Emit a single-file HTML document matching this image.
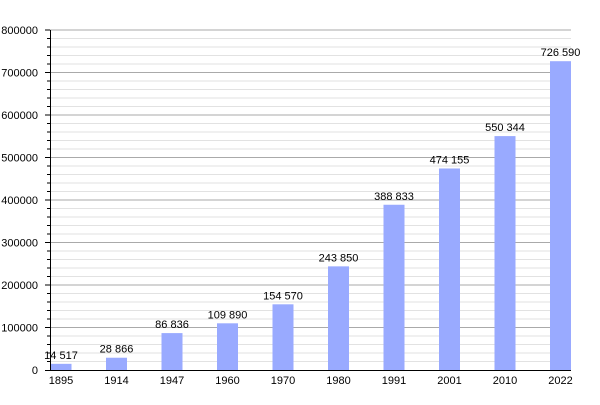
<!DOCTYPE html>
<html><head><meta charset="utf-8"><style>body{margin:0;background:#fff}</style></head><body>
<svg width="600" height="400" xmlns="http://www.w3.org/2000/svg" font-family="Liberation Sans, sans-serif" font-size="11" fill="#000">
<path stroke="#e2e2e2" fill="none" d="M50 361.5H571M50 353H571M50 344.5H571M50 336H571M50 319H571M50 310.5H571M50 302H571M50 293.5H571M50 276.5H571M50 268H571M50 259.5H571M50 251H571M50 234H571M50 225.5H571M50 217H571M50 208.5H571M50 191.5H571M50 183H571M50 174.5H571M50 166H571M50 149H571M50 140.5H571M50 132H571M50 123.5H571M50 106.5H571M50 98H571M50 89.5H571M50 81H571M50 64H571M50 55.5H571M50 47H571M50 38.5H571"/>
<path stroke="#aaa" fill="none" d="M50 327.5H571M50 285H571M50 242.5H571M50 200H571M50 157.5H571M50 115H571M50 72.5H571M50 30H571"/>
<path stroke="#000" fill="none" d="M47 361.5H50M47 353H50M47 344.5H50M47 336H50M47 319H50M47 310.5H50M47 302H50M47 293.5H50M47 276.5H50M47 268H50M47 259.5H50M47 251H50M47 234H50M47 225.5H50M47 217H50M47 208.5H50M47 191.5H50M47 183H50M47 174.5H50M47 166H50M47 149H50M47 140.5H50M47 132H50M47 123.5H50M47 106.5H50M47 98H50M47 89.5H50M47 81H50M47 64H50M47 55.5H50M47 47H50M47 38.5H50M45 327.5H50M45 285H50M45 242.5H50M45 200H50M45 157.5H50M45 115H50M45 72.5H50M45 30H50"/>
<g text-anchor="end">
<text x="38" y="374">0</text>
<text x="38" y="331.5">100000</text>
<text x="38" y="289">200000</text>
<text x="38" y="246.5">300000</text>
<text x="38" y="204">400000</text>
<text x="38" y="161.5">500000</text>
<text x="38" y="119">600000</text>
<text x="38" y="76.5">700000</text>
<text x="38" y="34">800000</text>
</g>
<g fill="#99aaff">
<rect x="50.5" y="363.83" width="21" height="6.17"/>
<rect x="106" y="357.73" width="21" height="12.27"/>
<rect x="161.5" y="333.09" width="21" height="36.91"/>
<rect x="217" y="323.3" width="21" height="46.7"/>
<rect x="272.5" y="304.31" width="21" height="65.69"/>
<rect x="328" y="266.36" width="21" height="103.64"/>
<rect x="383.5" y="204.75" width="21" height="165.25"/>
<rect x="439" y="168.48" width="21" height="201.52"/>
<rect x="494.5" y="136.1" width="21" height="233.9"/>
<rect x="550" y="61.2" width="21" height="308.8"/>
</g>
<g text-anchor="middle">
<text x="61" y="358.8">14 517</text>
<text x="116.5" y="352.7">28 866</text>
<text x="172" y="328.1">86 836</text>
<text x="227.5" y="318.3">109 890</text>
<text x="283" y="299.3">154 570</text>
<text x="338.5" y="261.4">243 850</text>
<text x="394" y="199.8">388 833</text>
<text x="449.5" y="163.5">474 155</text>
<text x="505" y="131.1">550 344</text>
<text x="560.5" y="56.2">726 590</text>
<text x="61" y="384">1895</text>
<text x="116.5" y="384">1914</text>
<text x="172" y="384">1947</text>
<text x="227.5" y="384">1960</text>
<text x="283" y="384">1970</text>
<text x="338.5" y="384">1980</text>
<text x="394" y="384">1991</text>
<text x="449.5" y="384">2001</text>
<text x="505" y="384">2010</text>
<text x="560.5" y="384">2022</text>
</g>
<path stroke="#000" fill="none" d="M50.5 30V371M45 370.5H571"/>
</svg>
</body></html>
